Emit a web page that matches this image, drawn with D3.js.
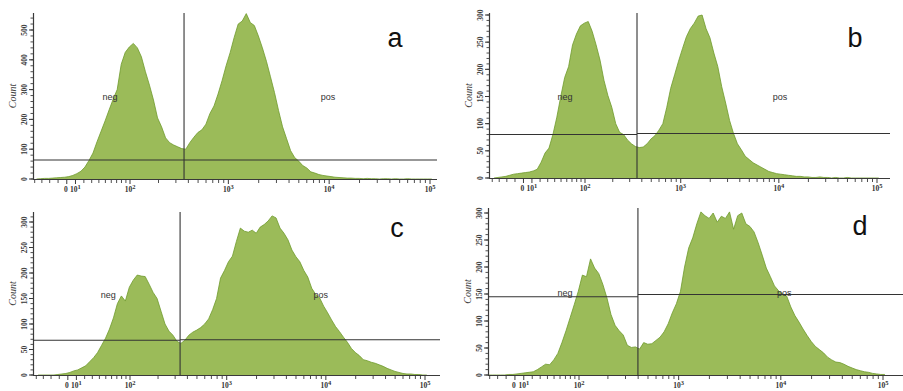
<!DOCTYPE html>
<html>
<head>
<meta charset="utf-8">
<script src="https://cdn.jsdelivr.net/npm/d3@7"></script>
<style>
  html, body { margin: 0; padding: 0; background: #fff; }
  svg { display: block; }
</style>
</head>
<body>
<svg id="chart" width="903" height="391"></svg>
<script>
// ---------------- DATA ----------------
const panelNames = ["a", "b", "c", "d"];

// Histogram bins on the biexponential (asinh) display axis
const binStart = -0.30;   // display units (decades)
const binStep = 0.04;

const countsA = [0,1,2,2,3,4,5,6,8,12,18,26,40,62,87,125,160,195,232,268,300,385,425,443,455,440,410,360,315,265,205,175,138,122,114,108,102,100,122,140,156,165,184,220,245,285,330,380,424,475,520,530,555,525,515,480,440,395,343,290,230,175,135,95,72,60,45,37,24,20,15,12,10,8,6,5,4,3,3,2,2,1,2,1,1,0,1,1,0,1,0,0,1,0,0,0,0,0,0];
const countsB = [0,1,2,3,5,7,8,9,10,11,13,16,29,46,55,80,112,150,185,205,245,265,280,285,288,270,245,217,180,152,130,100,84,80,70,63,58,56,57,63,72,78,88,100,130,165,190,215,238,260,275,285,298,300,275,258,230,205,168,138,106,82,63,52,40,34,28,24,20,16,12,10,8,7,6,5,4,3,3,2,2,1,1,2,1,1,0,1,0,0,1,0,0,0,0,0,0,0,0];
const countsC = [0,0,0,0,0,1,2,3,5,8,10,14,18,26,34,44,58,72,90,112,140,155,145,172,186,196,194,193,178,162,150,125,100,86,78,66,62,68,78,84,88,93,100,110,128,150,190,205,222,233,262,288,282,280,284,278,290,295,302,312,308,288,278,265,245,232,222,205,192,170,158,151,135,122,108,95,85,74,64,52,44,38,30,28,25,23,20,17,13,10,7,5,3,2,2,1,1,0,0];
const countsD = [0,0,0,0,0,0,1,1,2,3,4,5,6,10,15,20,19,28,40,60,82,106,130,155,185,182,215,198,188,168,143,112,92,82,74,55,51,52,48,60,57,58,64,70,80,95,115,132,155,200,235,254,280,302,295,290,300,283,294,290,302,270,295,300,280,275,265,245,222,198,182,165,156,150,146,126,110,98,85,73,62,53,47,41,33,28,24,23,20,16,13,10,8,6,5,3,2,1,1];
const panelCounts = [countsA, countsB, countsC, countsD];

// Gates (fluorescence value of the vertical divider, count of the horizontal markers)
const gateX = [362, 357, 337, 398];
const gateYLeft = [64, 80, 68, 145];
const gateYRight = [64, 82, 69, 149];

// Region labels [fluorescence, count]
const negLabelPos = [[58, 276], [57, 149], [54, 157], [69, 152]];
const posLabelPos = [[9750, 276], [10250, 149], [8900, 157], [10800, 152]];

// Axis ticks
const xMajorTicks = [0, 10, 100, 1000, 10000, 100000];
const xMajorExp = [null, 1, 2, 3, 4, 5];
const xMinorTicks = [-40, -30, -20, -10, 20, 30, 40, 50, 60, 70, 80, 90,
  200, 300, 400, 500, 600, 700, 800, 900,
  2000, 3000, 4000, 5000, 6000, 7000, 8000, 9000,
  20000, 30000, 40000, 50000, 60000, 70000, 80000, 90000];
const yMajorTicks = [
  [0, 100, 200, 300, 400, 500],
  [0, 50, 100, 150, 200, 250, 300],
  [0, 50, 100, 150, 200, 250, 300],
  [0, 50, 100, 150, 200, 250, 300]
];
const yMinorStep = [20, 10, 10, 10];
const yMaxCount = [555, 305, 320, 310];
const yAxisTitle = "Count";

// ---------------- LAYOUT ----------------
const layout = [
  {ox: 33,  right: 437, base: 179, top: 13,  px100: 130, px1e5: 430, refVal: 500, refPx: 30,  letter: [395, 47]},
  {ox: 489, right: 890, base: 178, top: 13,  px100: 585, px1e5: 877, refVal: 300, refPx: 15,  letter: [855, 47]},
  {ox: 33,  right: 440, base: 375, top: 212, px100: 130, px1e5: 425, refVal: 300, refPx: 222, letter: [397, 237]},
  {ox: 488, right: 903, base: 375, top: 208, px100: 579, px1e5: 883, refVal: 300, refPx: 213, letter: [860, 235]}
];

const W = 50; // biexponential linearisation width
const T = v => Math.asinh(v / W) / Math.LN10;

const svg = d3.select("#chart");
const axisColor = "#3a3a3a";
const fillColor = "#9bbb59";
const edgeColor = "#6e9a2c";
const tickFont = "'Liberation Serif', 'DejaVu Serif', serif";

panelNames.forEach((name, p) => {
  const L = layout[p];
  const counts = panelCounts[p];
  const g = svg.append("g");

  const x = d3.scaleLinear().domain([T(100), T(100000)]).range([L.px100, L.px1e5]);
  const y = d3.scaleLinear().domain([0, L.refVal]).range([L.base, L.refPx]);
  const xv = v => x(T(v));

  const clipId = "clip" + name;
  svg.append("clipPath").attr("id", clipId)
    .append("rect").attr("x", L.ox).attr("y", L.top - 2)
    .attr("width", L.right - L.ox).attr("height", L.base - L.top + 2);

  const bins = counts.map((c, i) => ({t: binStart + binStep * i, c}));

  const area = d3.area().x(d => x(d.t)).y0(L.base).y1(d => y(d.c)).curve(d3.curveLinear);
  const line = d3.line().x(d => x(d.t)).y(d => y(d.c)).curve(d3.curveLinear);

  const hg = g.append("g").attr("clip-path", `url(#${clipId})`);
  hg.append("path").datum(bins).attr("d", area).attr("fill", fillColor);
  hg.append("path").datum(bins).attr("d", line).attr("fill", "none")
    .attr("stroke", edgeColor).attr("stroke-width", 0.8);

  // Axes lines
  g.append("line").attr("x1", L.ox).attr("x2", L.right).attr("y1", L.base + 0.5).attr("y2", L.base + 0.5)
    .attr("stroke", axisColor).attr("stroke-width", 1.2);
  g.append("line").attr("x1", L.ox + 0.5).attr("x2", L.ox + 0.5).attr("y1", L.top).attr("y2", L.base + 1)
    .attr("stroke", axisColor).attr("stroke-width", 1.2);

  // X ticks
  xMinorTicks.filter(v => xv(v) > L.ox + 1 && xv(v) < L.right).forEach(v => {
    g.append("line").attr("x1", xv(v)).attr("x2", xv(v)).attr("y1", L.base).attr("y2", L.base + 4)
      .attr("stroke", axisColor).attr("stroke-width", 0.9);
  });
  xMajorTicks.forEach((v, i) => {
    const px = xv(v);
    g.append("line").attr("x1", px).attr("x2", px).attr("y1", L.base).attr("y2", L.base + 5)
      .attr("stroke", axisColor).attr("stroke-width", 1);
    const t = g.append("text").attr("x", v === 0 ? px - 1 : px).attr("y", L.base + 13)
      .attr("text-anchor", "middle").attr("font-family", tickFont)
      .attr("font-weight", "bold").attr("font-size", 7.5).attr("fill", "#333");
    if (xMajorExp[i] === null) {
      t.text("0");
    } else {
      t.append("tspan").text("10");
      t.append("tspan").attr("dy", -3.5).attr("font-size", 6.5).text(xMajorExp[i]);
    }
  });

  // Y ticks
  const minorVals = d3.range(0, yMaxCount[p] + 1, yMinorStep[p]).filter(v => y(v) >= L.top);
  minorVals.forEach(v => {
    g.append("line").attr("x1", L.ox - 2.5).attr("x2", L.ox).attr("y1", y(v)).attr("y2", y(v))
      .attr("stroke", axisColor).attr("stroke-width", 0.9);
  });
  yMajorTicks[p].forEach(v => {
    g.append("line").attr("x1", L.ox - 4).attr("x2", L.ox).attr("y1", y(v)).attr("y2", y(v))
      .attr("stroke", axisColor).attr("stroke-width", 1);
    g.append("text").attr("transform", `translate(${L.ox - 9},${y(v)}) rotate(-90)`)
      .attr("text-anchor", "middle").attr("dominant-baseline", "central")
      .attr("font-family", tickFont).attr("font-weight", "bold").attr("font-size", 7.5)
      .attr("fill", "#333").text(v);
  });

  // Y title
  g.append("text").attr("transform", `translate(${L.ox - 21},${(L.top + L.base) / 2}) rotate(-90)`)
    .attr("text-anchor", "middle").attr("dominant-baseline", "central")
    .attr("font-family", tickFont).attr("font-style", "italic").attr("font-size", 10)
    .attr("fill", "#444").text(yAxisTitle);

  // Gates
  const gx = xv(gateX[p]);
  g.append("line").attr("x1", gx).attr("x2", gx).attr("y1", L.top).attr("y2", L.base)
    .attr("stroke", "#333").attr("stroke-width", 1.1);
  g.append("line").attr("x1", L.ox).attr("x2", gx).attr("y1", y(gateYLeft[p])).attr("y2", y(gateYLeft[p]))
    .attr("stroke", "#333").attr("stroke-width", 1.1);
  g.append("line").attr("x1", gx).attr("x2", L.right).attr("y1", y(gateYRight[p])).attr("y2", y(gateYRight[p]))
    .attr("stroke", "#333").attr("stroke-width", 1.1);

  // Region labels
  [["neg", negLabelPos[p]], ["pos", posLabelPos[p]]].forEach(([txt, pos]) => {
    g.append("text").attr("x", xv(pos[0])).attr("y", y(pos[1]))
      .attr("text-anchor", "middle").attr("dominant-baseline", "central")
      .attr("font-family", "'Liberation Sans', Arial, sans-serif").attr("font-size", 9)
      .attr("fill", "#333").text(txt);
  });

  // Panel letter
  g.append("text").attr("x", L.letter[0]).attr("y", L.letter[1])
    .attr("text-anchor", "middle").attr("font-family", "'Liberation Sans', Arial, sans-serif")
    .attr("font-size", 27).attr("fill", "#111").text(name);
});
</script>
</body>
</html>
